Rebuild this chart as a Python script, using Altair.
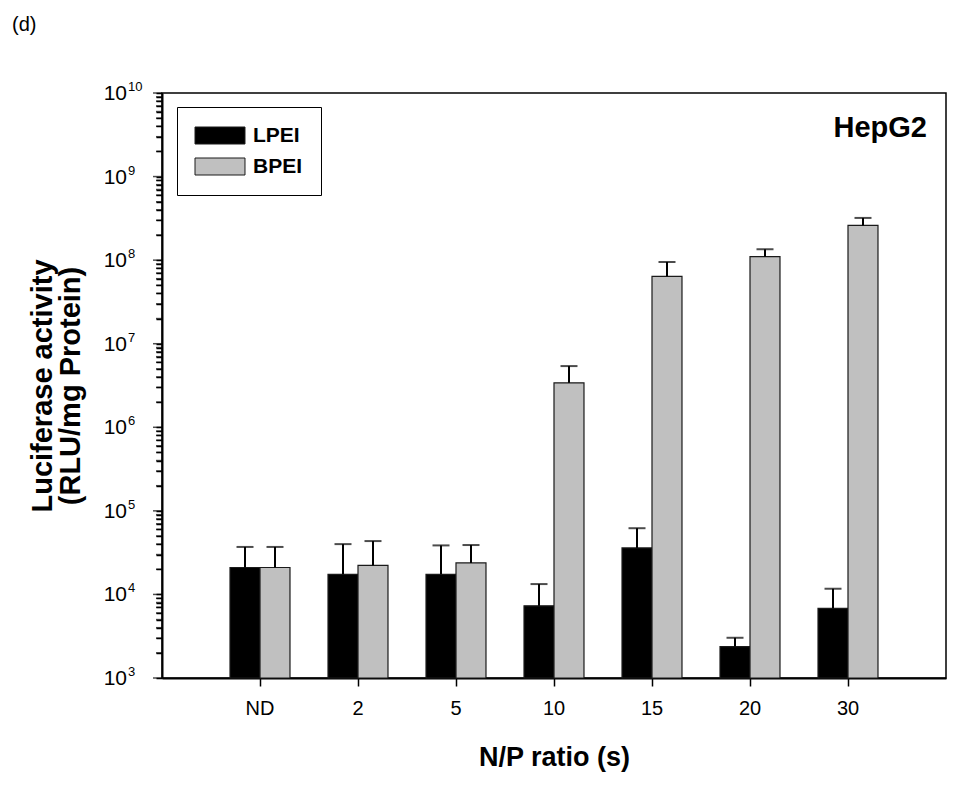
import altair as alt
import pandas as pd

# ---- data ----
cats = ["ND", "2", "5", "10", "15", "20", "30"]
series = ["LPEI", "BPEI"]
lpei_mean = [2.1e4, 1.74e4, 1.74e4, 7.3e3, 3.6e4, 2.38e3, 6.8e3]
lpei_err = [1.6e4, 2.26e4, 2.12e4, 6.0e3, 2.6e4, 6.5e2, 4.9e3]
bpei_mean = [2.1e4, 2.23e4, 2.38e4, 3.4e6, 6.4e7, 1.1e8, 2.6e8]
bpei_err = [1.6e4, 2.12e4, 1.52e4, 2.0e6, 3.1e7, 2.5e7, 6.0e7]
exponents = [3, 4, 5, 6, 7, 8, 9, 10]
minor_mult = [2, 3, 4, 5, 6, 7, 8, 9]

rows = []
for i, c in enumerate(cats):
    rows.append(dict(cat=c, series="LPEI", value=lpei_mean[i], err=lpei_err[i]))
    rows.append(dict(cat=c, series="BPEI", value=bpei_mean[i], err=bpei_err[i]))
df = pd.DataFrame(rows)
df["upper"] = df["value"] + df["err"]

decades = [float(10 ** e) for e in exponents]
minor = [float(m * 10 ** e) for e in exponents[:-1] for m in minor_mult]
all_ticks = sorted(decades + minor)
dec_df = pd.DataFrame({"value": decades, "exp": [str(e) for e in exponents]})
minor_df = pd.DataFrame({"value": minor})

FONT = "Liberation Sans"
yscale = alt.Scale(type="log", domain=[1e3, 1e10], nice=False)
xscale = alt.Scale(paddingInner=0.388, paddingOuter=0.694)
xoff = alt.XOffset("series:N", sort=series,
                   scale=alt.Scale(paddingInner=0, paddingOuter=0))

x_axis = alt.Axis(
    title="N/P ratio (s)", labelAngle=0, labelFont=FONT,
    labelFontSize=20, labelColor="black", labelPadding=12,
    tickSize=8, tickWidth=1.5, tickColor="black",
    domainColor="black", domainWidth=2,
    titleFont=FONT, titleFontSize=27, titleFontWeight="bold",
    titleColor="black", titleY=79, titleBaseline="middle",
)
y_axis = alt.Axis(
    values=all_ticks, tickCount=200, labels=False, grid=False,
    tickSize=6, tickColor="black", tickWidth=1.5, tickOpacity=1,
    domainColor="black", domainWidth=2,
    title=["Luciferase activity", "(RLU/mg Protein)"],
    titleFont=FONT, titleFontSize=29, titleFontWeight="bold", titleColor="black",
    titleAngle=-90, titleX=-120, titleY=292.5, titleAlign="center",
    titleBaseline="middle", titleLineHeight=28,
)


def X():
    return alt.X("cat:N", sort=cats, scale=xscale, axis=x_axis)


def Y(field="value"):
    return alt.Y(f"{field}:Q", scale=yscale, axis=y_axis)


bars = alt.Chart(df).mark_bar(stroke="#1a1a1a", strokeWidth=1.2).encode(
    x=X(),
    xOffset=xoff,
    y=Y(),
    y2=alt.datum(1000),
    color=alt.Color(
        "series:N", sort=series,
        scale=alt.Scale(domain=series, range=["#000000", "#c0c0c0"]),
        legend=alt.Legend(
            title=None, orient="none", legendX=15, legendY=14, direction="vertical",
            symbolType="M-2.94,-1L2.94,-1L2.94,1L-2.94,1Z", symbolSize=289,
            symbolOffset=14.5,
            symbolStrokeColor="#1a1a1a", symbolStrokeWidth=1,
            labelFont=FONT, labelFontSize=21, labelFontWeight="bold", labelColor="black",
            labelOffset=22.5, rowPadding=9, padding=18,
            strokeColor="black", fillColor="white",
        ),
    ),
)

err_rule = alt.Chart(df).mark_rule(color="black", strokeWidth=2).encode(
    x=X(), xOffset=xoff, y=Y(), y2="upper:Q",
)
err_cap = alt.Chart(df).mark_tick(color="black", thickness=2, size=17,
                                  orient="horizontal").encode(
    x=X(), xOffset=xoff, y=Y("upper"),
)

# short minor ticks and longer decade ticks outside the left axis line
minor_ticks = alt.Chart(minor_df).mark_tick(
    color="black", thickness=1.5, size=6, orient="horizontal"
).encode(y=Y(), x=alt.value(-3))
major_ticks = alt.Chart(dec_df).mark_tick(
    color="black", thickness=1.5, size=9, orient="horizontal"
).encode(y=Y(), x=alt.value(-4.5))

ylab_base = alt.Chart(dec_df).mark_text(
    align="right", baseline="middle", font=FONT, fontSize=21, color="black", dy=1
).encode(x=alt.value(-35), y=Y(), text=alt.value("10"))
ylab_exp = alt.Chart(dec_df).mark_text(
    align="left", baseline="middle", font=FONT, fontSize=13, color="black", dy=-6
).encode(x=alt.value(-34), y=Y(), text="exp:N")

note = pd.DataFrame({"t": ["HepG2"]})
hepg2 = alt.Chart(note).mark_text(
    align="right", baseline="alphabetic", font=FONT, fontSize=29, fontWeight="bold",
    color="black"
).encode(x=alt.value(765), y=alt.value(44), text="t:N")

panel = pd.DataFrame({"t": ["(d)"]})
panel_lab = alt.Chart(panel).mark_text(
    align="left", baseline="middle", font=FONT, fontSize=20, color="black"
).encode(x=alt.value(-150), y=alt.value(-68), text="t:N")

chart = alt.layer(
    bars, err_rule, err_cap, minor_ticks, major_ticks, ylab_base, ylab_exp,
    hepg2, panel_lab
).properties(
    width=784, height=585,
    autosize=alt.AutoSizeParams(type="none"),
    padding={"left": 154, "top": 85, "right": 11, "bottom": 100},
    background="white",
).configure_view(stroke="black", strokeWidth=1.5)

chart.save("out.html", embed_options={"renderer": "svg", "actions": False})
